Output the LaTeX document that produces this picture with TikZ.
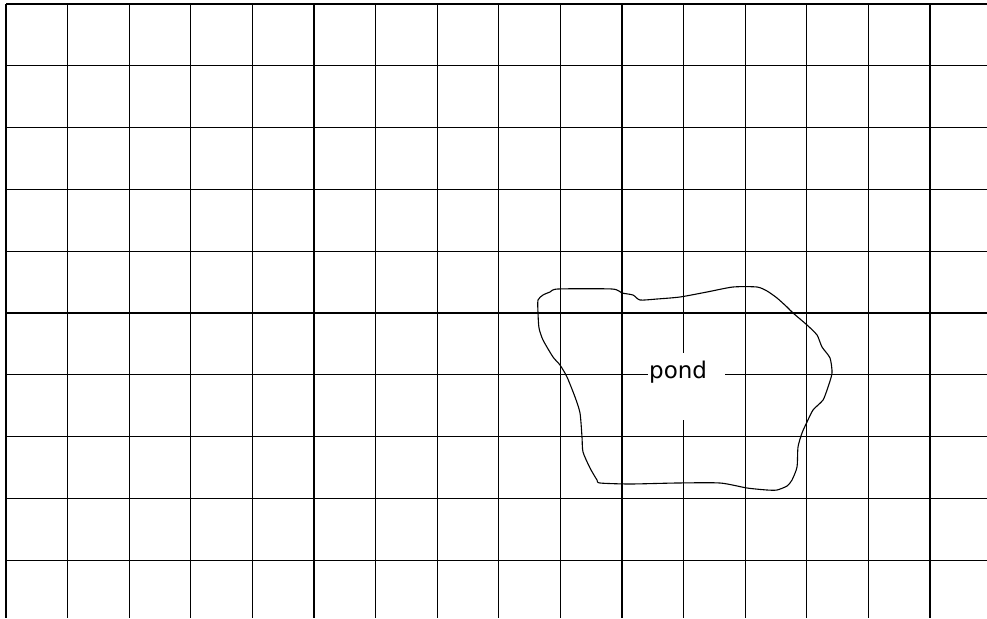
\documentclass[tikz,border=0pt]{standalone}
\usepackage{fontspec}
\setmainfont{DejaVu Sans}
\begin{document}
\begin{tikzpicture}[x=1pt,y=-1pt,
  gridline/.style={line width=1.35pt,black},
  pondline/.style={line width=1.1pt,black},
  gapbox/.style={fill=white,inner sep=0pt,minimum width=77pt,minimum height=67pt},
  labeltext/.style={inner sep=0pt,anchor=base west,font=\fontsize{23}{27}\selectfont}]
\fill[white] (0,0) rectangle (987,618);
\useasboundingbox (0,0) rectangle (987,618);
% grid
\foreach \i in {0,...,15} {
  \draw[gridline] ({6+61.6*\i},4) -- ({6+61.6*\i},618);
}
\foreach \j in {0,...,9} {
  \draw[gridline] (6,{4+61.8*\j}) -- (987,{4+61.8*\j});
}
% label gap
\node[gapbox] (pondbox) at (686.5,386.5) {};
\node[labeltext] (pond) at (649,378) {pond};
% pond outline
\draw[pondline] plot[smooth cycle,tension=0.4] coordinates {
 (538,300) (543,295) (550,292) (558,289) (612,289) (622,293) (633,295)
 (640,300) (657,299) (680,297) (707,292) (733,287) (757,287) (767,291)
 (777,298) (787,307) (793,313) (807,325) (817,335) (822,347) (830,358)
 (832,373) (828,387) (823,400) (813,410) (807,422) (802,433) (798,447)
 (797,467) (792,480) (787,486) (777,490) (767,490) (747,488) (720,483)
 (677,483) (630,484) (600,483) (597,480) (590,468) (583,452) (582,437)
 (580,413) (575,397) (567,377) (560,365) (553,357) (543,340) (539,328)
 (538,313)};
\end{tikzpicture}
\end{document}
